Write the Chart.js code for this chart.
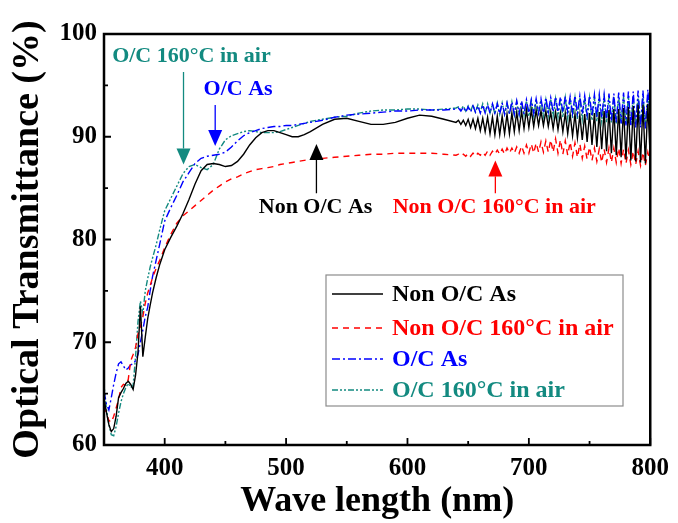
<!DOCTYPE html>
<html>
<head>
<meta charset="utf-8">
<title>Optical Transmittance</title>
<script src="https://cdn.jsdelivr.net/npm/chart.js@4.4.0/dist/chart.umd.min.js"></script>
<style>
  html, body { margin: 0; padding: 0; background: #fff; }
  canvas { display: block; }
</style>
</head>
<body>
<canvas id="chart" width="678" height="523"></canvas>
<script>
// wavelength grid (nm), finer where the curves wiggle
const waveLength = [
  350, 352, 354, 356, 358, 360, 362, 364, 366, 368, 370, 372, 374, 376, 378, 380, 382, 384, 386, 388, 390,
  393, 396, 400, 405, 410, 415, 420, 425, 430, 435, 440, 445, 450, 455, 460, 465, 470, 475, 480,
  485, 490, 495, 500, 505, 510, 515, 520, 530, 540, 550, 560, 570, 580, 590, 600, 610, 620, 630, 640,
  642, 644, 646, 648, 650, 652, 654, 656, 658, 660, 662, 664, 666, 668, 670, 672, 674, 676, 678, 680,
  682, 684, 686, 688, 690, 692, 694, 696, 698, 700, 702, 704, 706, 708, 710, 712, 714, 716, 718, 720,
  722, 724, 726, 728, 730, 732, 734, 736, 738, 740, 742, 744, 746, 748, 750, 752, 754, 756, 758, 760,
  762, 764, 766, 768, 770, 772, 774, 776, 778, 780, 782, 784, 786, 788, 790, 792, 794, 796, 798, 800
];

const nonOcAs = [
  64.5, 63.2, 62.0, 61.3, 61.6, 62.8, 64.6, 65.1, 65.5, 66.0, 66.2, 65.9, 65.4, 66.8, 69.0, 73.5, 68.6, 70.5, 72.3, 73.6, 74.8,
  76.3, 77.6, 79.0, 80.2, 81.3, 82.5, 83.9, 85.4, 86.7, 87.3, 87.4, 87.3, 87.1, 87.2, 87.6, 88.3, 89.2, 89.9, 90.4,
  90.6, 90.6, 90.4, 90.2, 90.0, 90.0, 90.2, 90.5, 91.2, 91.7, 91.8, 91.5, 91.2, 91.2, 91.4, 91.8, 92.1, 92.0, 91.7, 91.4,
  91.6, 91.2, 91.6, 91.1, 91.7, 90.9, 91.7, 90.8, 91.8, 90.6, 91.8, 90.5, 91.9, 90.3, 91.9, 90.2, 92.0, 90.2, 92.0, 90.3,
  92.2, 90.3, 92.3, 90.5, 92.4, 90.6, 92.5, 90.8, 92.6, 90.9, 92.6, 91.0, 92.6, 91.1, 92.5, 91.1, 92.5, 91.0, 92.4, 90.8,
  92.4, 90.7, 92.3, 90.5, 92.3, 90.3, 92.2, 90.1, 92.2, 89.9, 92.1, 89.7, 92.2, 89.5, 92.3, 89.2, 92.3, 89.0, 92.4, 88.8,
  92.5, 88.6, 92.6, 88.4, 92.7, 88.2, 92.7, 88.0, 92.8, 87.8, 92.9, 87.7, 93.0, 87.6, 93.1, 87.5, 93.1, 87.4, 93.2, 87.9
];

const nonOc160Air = [
  63.8, 63.0, 62.4, 62.2, 62.8, 63.6, 64.4, 65.6, 65.9, 65.8, 66.4, 68.2, 68.8, 69.5, 70.8, 71.5, 72.5, 73.8, 74.8, 75.5, 76.3,
  77.2, 78.0, 79.2, 80.5, 81.6, 82.3, 82.8, 83.3, 83.8, 84.3, 84.8, 85.2, 85.6, 85.9, 86.1, 86.4, 86.6, 86.8, 86.9,
  87.0, 87.1, 87.3, 87.4, 87.5, 87.6, 87.7, 87.8, 87.9, 88.0, 88.1, 88.2, 88.3, 88.3, 88.4, 88.4, 88.4, 88.4, 88.3, 88.2,
  88.3, 88.1, 88.3, 88.1, 88.4, 88.1, 88.4, 88.1, 88.4, 88.2, 88.5, 88.2, 88.6, 88.2, 88.6, 88.3, 88.7, 88.3, 88.8, 88.3,
  88.9, 88.4, 88.9, 88.4, 89.0, 88.4, 89.1, 88.4, 89.2, 88.4, 89.3, 88.4, 89.4, 88.5, 89.5, 88.5, 89.6, 88.5, 89.7, 88.5,
  89.8, 88.4, 89.7, 88.3, 89.6, 88.2, 89.5, 88.1, 89.4, 88.0, 89.3, 87.9, 89.1, 87.8, 89.0, 87.7, 88.9, 87.6, 88.8, 87.5,
  88.8, 87.5, 88.9, 87.5, 88.9, 87.5, 88.9, 87.4, 88.8, 87.4, 88.7, 87.3, 88.6, 87.3, 88.6, 87.2, 88.5, 87.2, 88.5, 87.4
];

const ocAs = [
  65.2, 64.0, 63.4, 64.6, 65.9, 67.0, 67.9, 68.1, 67.7, 67.3, 67.5, 67.8, 67.9, 68.2, 68.8, 70.0, 71.2, 72.5, 73.4, 75.0, 76.4,
  78.0, 79.6, 81.8, 83.1, 84.3, 85.6, 86.5, 87.4, 87.9, 88.1, 88.2, 88.3, 88.5, 89.0, 89.6, 90.1, 90.4, 90.6, 90.8,
  90.9, 91.0, 91.0, 91.1, 91.1, 91.2, 91.3, 91.4, 91.6, 91.9, 92.1, 92.2, 92.3, 92.4, 92.5, 92.5, 92.6, 92.6, 92.6, 92.7,
  92.8, 92.5, 92.9, 92.4, 92.9, 92.4, 93.0, 92.4, 93.0, 92.3, 93.1, 92.3, 93.1, 92.3, 93.2, 92.3, 93.2, 92.2, 93.3, 92.2,
  93.3, 92.2, 93.4, 92.2, 93.5, 92.2, 93.5, 92.2, 93.6, 92.3, 93.6, 92.3, 93.7, 92.3, 93.7, 92.3, 93.8, 92.4, 93.8, 92.4,
  93.9, 92.4, 93.9, 92.4, 93.9, 92.4, 93.9, 92.3, 94.0, 92.3, 94.0, 92.2, 94.0, 92.1, 94.0, 92.0, 94.1, 91.9, 94.1, 91.8,
  94.1, 91.7, 94.2, 91.5, 94.2, 91.4, 94.3, 91.3, 94.3, 91.1, 94.4, 91.0, 94.4, 90.9, 94.5, 90.9, 94.5, 90.8, 94.6, 91.5
];

const oc160Air = [
  65.8, 63.5, 62.0, 61.0, 60.9, 61.8, 63.1, 64.2, 65.0, 65.6, 66.0, 65.6, 65.8, 68.6, 72.0, 74.0, 72.8, 75.0, 76.2, 77.3, 78.2,
  79.5, 81.0, 82.8, 84.0, 85.2, 86.4, 87.1, 87.3, 87.0, 86.8, 87.3, 88.8, 89.7, 90.1, 90.3, 90.5, 90.6, 90.5, 90.4,
  90.4, 90.4, 90.5, 90.7, 90.9, 91.1, 91.3, 91.5, 91.7, 91.9, 92.0, 92.3, 92.5, 92.6, 92.6, 92.7, 92.7, 92.6, 92.7, 92.8,
  92.9, 92.6, 93.0, 92.5, 93.0, 92.5, 93.1, 92.4, 93.1, 92.4, 93.2, 92.3, 93.2, 92.3, 93.2, 92.2, 93.3, 92.2, 93.3, 92.2,
  93.3, 92.2, 93.4, 92.1, 93.4, 92.1, 93.4, 92.1, 93.5, 92.0, 93.5, 92.0, 93.6, 92.0, 93.6, 92.0, 93.6, 92.0, 93.7, 92.0,
  93.7, 91.9, 93.7, 91.9, 93.8, 91.8, 93.8, 91.8, 93.8, 91.7, 93.8, 91.7, 93.8, 91.6, 93.8, 91.6, 93.8, 91.5, 93.8, 91.5,
  93.8, 91.4, 93.9, 91.4, 93.9, 91.3, 93.9, 91.3, 93.9, 91.2, 93.9, 91.2, 93.9, 91.1, 94.0, 91.1, 94.0, 91.0, 94.0, 91.6
];

const seriesNames = ['Non O/C As', 'Non O/C 160°C in air', 'O/C As', 'O/C 160°C in air'];
const xTickLabels = [400, 500, 600, 700, 800];
const yTickLabels = [60, 70, 80, 90, 100];

const RED = '#ff0000';
const BLUE = '#0000ff';
const TEAL = '#138a80';
const SERIF = "'Liberation Serif', 'Times New Roman', serif";

// text + arrow callouts, placed in data units
const callouts = [
  { text: seriesNames[3], color: TEAL, at: [422, 97.8], arrowX: 415.5, from: 96.3, to: 87.3 },
  { text: 'O/C As', color: BLUE, at: [460.5, 94.6], arrowX: 441.6, from: 93.1, to: 89.1 },
  { text: seriesNames[0], color: '#000', at: [524.3, 83.1], arrowX: 525, from: 84.5, to: 89.3 },
  { text: seriesNames[2 - 1], color: RED, at: [671.5, 83.1], arrowX: 672.4, from: 84.5, to: 87.7 }
];

const toPoints = (vals) => vals.map((v, i) => ({ x: waveLength[i], y: v }));

// inward tick marks on bottom/left plus the closed frame
const framePlugin = {
  id: 'frame',
  afterDatasetsDraw(chart) {
    const { ctx, chartArea: a, scales } = chart;
    ctx.save();
    ctx.strokeStyle = '#000';
    ctx.lineWidth = 1.8;
    ctx.beginPath();
    scales.x.ticks.forEach((t) => {
      const px = scales.x.getPixelForValue(t.value);
      const len = xTickLabels.includes(t.value) ? 7 : 4;
      ctx.moveTo(px, a.bottom);
      ctx.lineTo(px, a.bottom - len);
    });
    scales.y.ticks.forEach((t) => {
      const py = scales.y.getPixelForValue(t.value);
      const len = yTickLabels.includes(t.value) ? 7 : 4;
      ctx.moveTo(a.left, py);
      ctx.lineTo(a.left + len, py);
    });
    ctx.stroke();
    ctx.lineWidth = 2.5;
    ctx.strokeRect(a.left, a.top, a.right - a.left, a.bottom - a.top);
    ctx.restore();
  }
};

const calloutPlugin = {
  id: 'callouts',
  afterDatasetsDraw(chart) {
    const { ctx, scales } = chart;
    ctx.save();
    ctx.font = `bold 22px ${SERIF}`;
    ctx.textAlign = 'center';
    ctx.textBaseline = 'middle';
    callouts.forEach((c) => {
      const tx = scales.x.getPixelForValue(c.at[0]);
      const ty = scales.y.getPixelForValue(c.at[1]);
      ctx.fillStyle = c.color;
      ctx.fillText(c.text, tx, ty);

      const ax = scales.x.getPixelForValue(c.arrowX);
      const y0 = scales.y.getPixelForValue(c.from);
      const y1 = scales.y.getPixelForValue(c.to);
      const dir = y1 > y0 ? 1 : -1;
      const head = 16;
      ctx.strokeStyle = c.color;
      ctx.lineWidth = 1.3;
      ctx.beginPath();
      ctx.moveTo(ax, y0);
      ctx.lineTo(ax, y1 - dir * head);
      ctx.stroke();
      ctx.beginPath();
      ctx.moveTo(ax, y1);
      ctx.lineTo(ax - 7, y1 - dir * head);
      ctx.lineTo(ax + 7, y1 - dir * head);
      ctx.closePath();
      ctx.fill();
    });
    ctx.restore();
  }
};

// boxed legend sitting in the lower right of the plot
const legendBoxPlugin = {
  id: 'legendBox',
  afterDatasetsDraw(chart) {
    const { ctx, chartArea: a } = chart;
    const left = a.left + 222;
    const top = a.top + 241;
    const rows = [19, 53, 84, 115];
    ctx.save();
    ctx.fillStyle = '#fff';
    ctx.fillRect(left, top, 297, 131);
    ctx.strokeStyle = '#8c8c8c';
    ctx.lineWidth = 1.2;
    ctx.strokeRect(left, top, 297, 131);
    ctx.font = `bold 24px ${SERIF}`;
    ctx.textBaseline = 'middle';
    chart.data.datasets.forEach((ds, i) => {
      const y = top + rows[i];
      ctx.strokeStyle = ds.borderColor;
      ctx.lineWidth = 1.4;
      ctx.setLineDash(ds.borderDash || []);
      ctx.beginPath();
      ctx.moveTo(left + 6, y);
      ctx.lineTo(left + 57, y);
      ctx.stroke();
      ctx.setLineDash([]);
      ctx.fillStyle = ds.borderColor;
      ctx.fillText(ds.label, left + 66, y + 1);
    });
    ctx.restore();
  }
};

new Chart(document.getElementById('chart'), {
  type: 'line',
  data: {
    datasets: [
      { label: seriesNames[0], data: toPoints(nonOcAs), borderColor: '#000', borderWidth: 1.4 },
      { label: seriesNames[1], data: toPoints(nonOc160Air), borderColor: RED, borderWidth: 1.4, borderDash: [6, 5] },
      { label: seriesNames[2], data: toPoints(ocAs), borderColor: BLUE, borderWidth: 1.4, borderDash: [8, 3, 2, 3] },
      { label: seriesNames[3], data: toPoints(oc160Air), borderColor: TEAL, borderWidth: 1.4, borderDash: [6, 2, 2, 2, 2, 2] }
    ]
  },
  options: {
    responsive: false,
    animation: false,
    events: [],
    elements: {
      point: { radius: 0 },
      line: { tension: 0 }
    },
    layout: {
      padding: { top: 34, right: 22, left: 0, bottom: 0 }
    },
    plugins: {
      legend: { display: false },
      tooltip: { enabled: false }
    },
    scales: {
      x: {
        type: 'linear',
        min: 350,
        max: 800,
        afterFit: (scale) => { scale.height = 78; },
        grid: { display: false, drawTicks: false },
        border: { display: false },
        ticks: {
          stepSize: 50,
          padding: 9,
          maxRotation: 0,
          autoSkip: false,
          color: '#000',
          font: { family: SERIF, size: 25, weight: 'bold' },
          callback: (v) => (xTickLabels.includes(v) ? v : '')
        },
        title: {
          display: true,
          text: 'Wave length (nm)',
          color: '#000',
          font: { family: SERIF, size: 36, weight: 'bold' },
          padding: { top: 0, bottom: 0 }
        }
      },
      y: {
        min: 60,
        max: 100,
        afterFit: (scale) => { scale.width = 104; },
        grid: { display: false, drawTicks: false },
        border: { display: false },
        ticks: {
          stepSize: 5,
          padding: 7,
          autoSkip: false,
          color: '#000',
          font: { family: SERIF, size: 25, weight: 'bold' },
          callback: (v) => (yTickLabels.includes(v) ? v : '')
        },
        title: {
          display: true,
          text: 'Optical Transmittance (%)',
          color: '#000',
          font: { family: SERIF, size: 38, weight: 'bold' },
          padding: { top: 5, bottom: 0 }
        }
      }
    }
  },
  plugins: [framePlugin, legendBoxPlugin, calloutPlugin]
});
</script>
</body>
</html>
